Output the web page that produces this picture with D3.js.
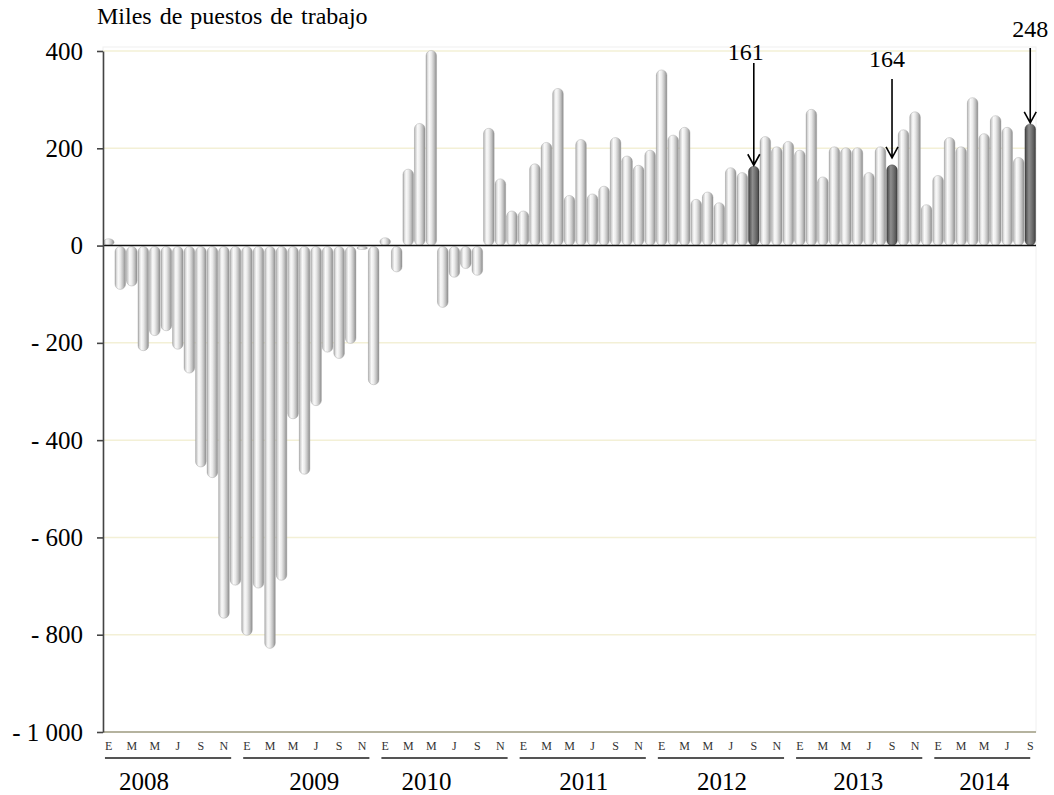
<!DOCTYPE html>
<html>
<head>
<meta charset="utf-8">
<script src="https://cdn.jsdelivr.net/npm/d3@7"></script>
<style>
  body { margin: 0; background: #fff; }
  svg text { font-family: "Liberation Serif", "Times New Roman", serif; }
</style>
</head>
<body>
<div id="chart"></div>
<script>
const years = ["2008", "2009", "2010", "2011", "2012", "2013", "2014"];
const monthTicks = ["E", "M", "M", "J", "S", "N"];

// miles de puestos de trabajo, por mes (enero a diciembre)
const v2008 = [12, -86, -79, -212, -181, -171, -209, -258, -451, -473, -762, -694];
const v2009 = [-797, -700, -824, -684, -352, -466, -325, -215, -228, -197, -4, -282];
const v2010 = [14, -50, 155, 249, 399, -123, -61, -43, -57, 239, 135, 69];
const v2011 = [69, 166, 210, 321, 101, 216, 104, 120, 220, 182, 163, 194];
const v2012 = [359, 225, 241, 93, 108, 86, 158, 148, 161, 222, 201, 212];
const v2013 = [194, 278, 139, 201, 199, 199, 148, 201, 164, 236, 273, 82];
const v2014 = [142, 220, 201, 302, 228, 265, 241, 179, 248];
const series = [v2008, v2009, v2010, v2011, v2012, v2013, v2014];

const highlighted = ["2012-9", "2013-9", "2014-9"];
const yTicks = [400, 200, 0, -200, -400, -600, -800, -1000];

const data = years.flatMap((yr, i) =>
  series[i].map((v, m) => ({ key: yr + "-" + (m + 1), year: yr, m: m, v: v })));

const width = 1054, height = 795;
const plotLeft = 103, plotRight = 1036, plotTop = 51, plotBottom = 732;

const svg = d3.select("#chart")
  .append("svg")
  .attr("width", width)
  .attr("height", height)
  .attr("font-family", "'Liberation Serif', serif");

const defs = svg.append("defs");
function cylinder(id, stops) {
  const g = defs.append("linearGradient").attr("id", id)
    .attr("x1", 0).attr("x2", 1).attr("y1", 0).attr("y2", 0);
  stops.forEach(s => g.append("stop").attr("offset", s[0]).attr("stop-color", s[1]));
}
cylinder("barLight", [["0%", "#a0a0a0"], ["10%", "#d0d0d0"], ["30%", "#fafafa"], ["50%", "#ebebeb"], ["75%", "#c2c2c2"], ["100%", "#8c8c8c"]]);
cylinder("barDark", [["0%", "#404040"], ["15%", "#606060"], ["38%", "#8e8e8e"], ["60%", "#777"], ["85%", "#595959"], ["100%", "#3a3a3a"]]);

const x = d3.scaleBand()
  .domain(data.map(d => d.key))
  .range([plotLeft, plotRight])
  .paddingInner(0.08)
  .paddingOuter(0.04);

const y = d3.scaleLinear()
  .domain([-1000, 400])
  .range([plotBottom, plotTop]);

// plot frame
svg.append("rect")
  .attr("x", plotLeft).attr("y", plotTop - 4)
  .attr("width", plotRight - plotLeft).attr("height", plotBottom - plotTop + 4)
  .attr("fill", "none")
  .attr("stroke", "#f0f0f0");

// grid
svg.append("g")
  .selectAll("line")
  .data(yTicks.filter(t => t !== 0 && t !== -1000))
  .enter()
  .append("line")
  .attr("x1", plotLeft).attr("x2", plotRight)
  .attr("y1", d => y(d)).attr("y2", d => y(d))
  .attr("stroke", "#f3f0d6")
  .attr("stroke-width", 1.5);

// bars
const bw = x.bandwidth();
svg.append("g")
  .selectAll("rect")
  .data(data)
  .enter()
  .append("rect")
  .attr("x", d => x(d.key))
  .attr("y", d => Math.min(y(d.v), y(0)) - (d.v >= 0 ? 1 : -1))
  .attr("width", bw)
  .attr("height", d => Math.abs(y(d.v) - y(0)) + 1)
  .attr("rx", bw / 2)
  .attr("ry", bw / 2)
  .attr("fill", d => highlighted.includes(d.key) ? "url(#barDark)" : "url(#barLight)")
  .attr("stroke", d => highlighted.includes(d.key) ? "#333" : "#a0a0a0")
  .attr("stroke-width", 0.4);

// zero line
svg.append("line")
  .attr("x1", plotLeft).attr("x2", plotRight)
  .attr("y1", y(0)).attr("y2", y(0))
  .attr("stroke", "#111")
  .attr("stroke-width", 1.6);

// bottom line
svg.append("line")
  .attr("x1", plotLeft).attr("x2", plotRight)
  .attr("y1", y(-1000)).attr("y2", y(-1000))
  .attr("stroke", "#b5b39f")
  .attr("stroke-width", 2);

// y axis
const fmt = v => {
  if (v === 0) return "0";
  const s = d3.format(",")(Math.abs(v)).replace(/,/g, " ");
  return v < 0 ? "- " + s : s;
};
const yAxis = svg.append("g")
  .attr("transform", `translate(${plotLeft},0)`)
  .call(d3.axisLeft(y).tickValues(yTicks).tickSize(6).tickSizeOuter(0).tickPadding(14).tickFormat(fmt));
yAxis.attr("font-family", null).attr("font-size", null);
yAxis.select(".domain").attr("stroke", "#444").attr("stroke-width", 1.6);
yAxis.selectAll(".tick line").attr("stroke", "#444").attr("stroke-width", 1.6);
yAxis.selectAll("text")
  .style("font-size", "25px")
  .attr("fill", "#000");

// month labels
svg.append("g")
  .selectAll("text")
  .data(data.filter(d => d.m % 2 === 0))
  .enter()
  .append("text")
  .attr("x", d => x(d.key) + bw / 2)
  .attr("y", 750)
  .attr("text-anchor", "middle")
  .style("font-size", "12px")
  .attr("fill", "#333")
  .text(d => monthTicks[d.m / 2]);

// year underline + label
const yearLabelDx = [-24, 8, -18, 1, 1, -1, 2];
const yearG = svg.append("g");
years.forEach((yr, i) => {
  const first = x(yr + "-1") + 1.5;
  const lastKey = yr + "-" + series[i].length;
  const end = series[i].length === 12 ? x(yr + "-12") + 1 : x(lastKey) + bw / 2;
  yearG.append("line")
    .attr("x1", first).attr("x2", end)
    .attr("y1", 758).attr("y2", 758)
    .attr("stroke", "#555")
    .attr("stroke-width", 2);
  yearG.append("text")
    .attr("x", (first + end) / 2 + yearLabelDx[i])
    .attr("y", 790)
    .attr("text-anchor", "middle")
    .style("font-size", "25px")
    .attr("fill", "#000")
    .text(yr);
});

// title
svg.append("text")
  .attr("x", 97)
  .attr("y", 24)
  .style("font-size", "24px")
  .style("word-spacing", "2px")
  .attr("fill", "#000")
  .text("Miles de puestos de trabajo");

// annotations
const annoLayout = [
  { textY: 60, arrowTop: 63, dx: -8, gap: 2 },
  { textY: 67, arrowTop: 79, dx: -5, gap: 8 },
  { textY: 37, arrowTop: 48, dx: 0, gap: 2 }
];
highlighted.forEach((k, i) => {
  const d = data.find(e => e.key === k);
  const L = annoLayout[i];
  const cx = x(k) + bw / 2;
  const tip = y(d.v) - L.gap;
  svg.append("text")
    .attr("x", cx + L.dx)
    .attr("y", L.textY)
    .attr("text-anchor", "middle")
    .style("font-size", "24px")
    .attr("fill", "#000")
    .text(d.v);
  svg.append("path")
    .attr("d", `M${cx},${L.arrowTop}L${cx},${tip}M${cx - 6},${tip - 11}L${cx},${tip}L${cx + 6},${tip - 11}`)
    .attr("fill", "none")
    .attr("stroke", "#000")
    .attr("stroke-width", 1.6);
});
</script>
</body>
</html>
